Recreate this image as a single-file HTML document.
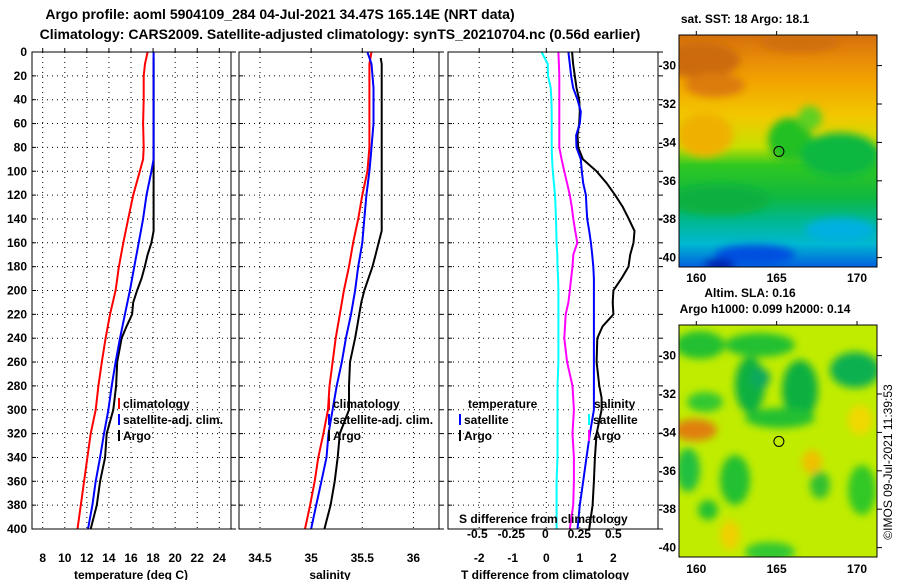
<!DOCTYPE html>
<html><head><meta charset="utf-8">
<style>
body{margin:0;background:#fff;}
svg{display:block;font-family:"Liberation Sans",sans-serif;font-weight:bold;}
</style></head>
<body>
<svg id="c" width="900" height="580" viewBox="0 0 900 580">
<defs>
<linearGradient id="sstg" x1="0" y1="0" x2="0" y2="1">
<stop offset="0" stop-color="#d4700c"/><stop offset="0.1" stop-color="#e88a08"/>
<stop offset="0.2" stop-color="#f2a400"/><stop offset="0.35" stop-color="#f2c800"/>
<stop offset="0.48" stop-color="#c8e000"/><stop offset="0.56" stop-color="#30c820"/>
<stop offset="0.7" stop-color="#10b840"/><stop offset="0.8" stop-color="#00b890"/>
<stop offset="0.9" stop-color="#00b8d0"/><stop offset="1" stop-color="#0060e0"/>
</linearGradient>
<filter id="bl"><feGaussianBlur stdDeviation="4"/></filter>
<clipPath id="m1"><rect x="679" y="35" width="198" height="232"/></clipPath>
<clipPath id="m2"><rect x="679" y="325" width="198" height="232"/></clipPath>
</defs>
<text x="280" y="19" font-size="14" text-anchor="middle">Argo profile: aoml 5904109_284 04-Jul-2021 34.47S 165.14E (NRT data)</text>
<text x="340" y="39" font-size="14" text-anchor="middle">Climatology: CARS2009. Satellite-adjusted climatology: synTS_20210704.nc (0.56d earlier)</text>

<g>
<g clip-path="url(#m1)">
<rect x="679" y="35" width="198" height="232" fill="url(#sstg)"/>
<g filter="url(#bl)">
<ellipse cx="700" cy="60" rx="40" ry="18" fill="#cc6a10"/>
<ellipse cx="800" cy="42" rx="40" ry="10" fill="#d07010"/>
<ellipse cx="715" cy="85" rx="30" ry="12" fill="#dc7c0c"/>
<ellipse cx="705" cy="135" rx="28" ry="22" fill="#f0b000"/>
<ellipse cx="790" cy="140" rx="22" ry="22" fill="#20c020"/>
<ellipse cx="840" cy="155" rx="40" ry="22" fill="#10b840"/>
<ellipse cx="810" cy="118" rx="12" ry="12" fill="#60d020"/>
<ellipse cx="720" cy="200" rx="50" ry="15" fill="#10b040"/>
<ellipse cx="840" cy="230" rx="35" ry="12" fill="#00b0e0"/>
<ellipse cx="755" cy="255" rx="40" ry="10" fill="#0050e0"/>
<ellipse cx="720" cy="265" rx="15" ry="6" fill="#0020b0"/>
</g>
</g>
<rect x="679" y="35" width="198" height="232" fill="none" stroke="#000"/>
</g>
<g>
<g clip-path="url(#m2)">
<rect x="679" y="325" width="198" height="232" fill="#c0ec00"/>
<g filter="url(#bl)">
<ellipse cx="700" cy="345" rx="25" ry="14" fill="#20c030"/>
<ellipse cx="760" cy="345" rx="35" ry="12" fill="#20c030"/>
<ellipse cx="750" cy="385" rx="15" ry="28" fill="#10b040"/>
<ellipse cx="760" cy="378" rx="10" ry="10" fill="#10a860"/>
<ellipse cx="800" cy="390" rx="18" ry="30" fill="#10b040"/>
<ellipse cx="780" cy="418" rx="35" ry="10" fill="#20c030"/>
<ellipse cx="855" cy="370" rx="25" ry="18" fill="#10b050"/>
<ellipse cx="705" cy="402" rx="18" ry="10" fill="#30c830"/>
<ellipse cx="695" cy="430" rx="22" ry="11" fill="#e08010"/>
<ellipse cx="688" cy="470" rx="12" ry="22" fill="#20c040"/>
<ellipse cx="735" cy="480" rx="15" ry="25" fill="#20c030"/>
<ellipse cx="812" cy="462" rx="10" ry="12" fill="#f0c000"/>
<ellipse cx="820" cy="485" rx="10" ry="14" fill="#30c030"/>
<ellipse cx="862" cy="490" rx="14" ry="25" fill="#30c828"/>
<ellipse cx="708" cy="510" rx="10" ry="10" fill="#20c030"/>
<ellipse cx="770" cy="552" rx="25" ry="10" fill="#30c830"/>
<ellipse cx="730" cy="535" rx="10" ry="15" fill="#f0d000"/>
<ellipse cx="860" cy="420" rx="12" ry="15" fill="#f0d800"/>
</g>
</g>
<rect x="679" y="325" width="198" height="232" fill="none" stroke="#000"/>
</g>
<text x="745" y="23" font-size="12" text-anchor="middle">sat. SST: 18 Argo: 18.1</text>
<text x="750" y="297" font-size="12" text-anchor="middle">Altim. SLA: 0.16</text>
<text x="765" y="313" font-size="12" text-anchor="middle">Argo h1000: 0.099 h2000: 0.14</text>
<text transform="translate(892,462) rotate(-90)" font-size="12" font-weight="normal" text-anchor="middle">©IMOS 09-Jul-2021 11:39:53</text>
</svg>
<script>
// ---- data ----
var depthTicks=[0,20,40,60,80,100,120,140,160,180,200,220,240,260,280,300,320,340,360,380,400];
var tTicks=[8,10,12,14,16,18,20,22,24];
var sTicks=[34.5,35,35.5,36];
var dtTicks=[-2,-1,0,1,2];
var dsTicks=[-0.5,-0.25,0,0.25,0.5];
var dsTickLabels=["-0.5","-0.25","0","0.25","0.5"];
var climDepth=[0,10,20,40,60,80,90,100,120,140,160,180,200,220,240,260,280,300,320,340,360,380,400];
var climT=[17.5,17.27,17.15,17.15,17.1,17.15,17.1,16.8,16.2,15.75,15.3,14.9,14.6,14.1,13.7,13.35,13.05,12.8,12.35,12.05,11.75,11.45,11.15];
var climS=[35.59,35.57,35.57,35.57,35.57,35.57,35.56,35.55,35.5,35.46,35.41,35.37,35.32,35.28,35.24,35.21,35.18,35.165,35.12,35.07,35.035,34.99,34.94];
var satDepth=[0,10,30,60,80,90,100,120,140,160,180,200,220,240,260,280,300,320,340,360,380,400];
var satT=[18.05,18.05,18.05,18.05,18.05,18.05,17.85,17.4,17.1,16.7,16.3,15.9,15.45,15.0,14.6,14.25,13.95,13.55,13.2,12.8,12.5,12.1];
var satS=[35.55,35.59,35.61,35.61,35.59,35.58,35.57,35.54,35.52,35.5,35.46,35.43,35.39,35.34,35.3,35.25,35.21,35.17,35.15,35.1,35.05,35.0];
var argoDepth=[5,10,90,100,140,150,160,170,180,190,200,210,220,230,240,260,280,300,320,340,360,380,400];
var argoT=[18.05,18.05,18.05,18.05,18.05,18.05,17.85,17.5,17.25,16.95,16.55,16.2,16.1,15.6,15.15,14.75,14.65,14.4,13.8,13.65,13.2,12.9,12.35];
var argoS=[35.68,35.69,35.69,35.69,35.69,35.69,35.66,35.63,35.6,35.56,35.52,35.49,35.47,35.45,35.43,35.38,35.37,35.37,35.28,35.26,35.23,35.19,35.13];
var dDepth=[0,10,20,30,40,50,60,70,80,90,100,110,120,130,140,150,160,170,180,190,200,210,220,230,240,260,280,290,300,320,340,360,380,400];
var satDT=[0.66,0.7,0.74,0.8,0.93,1.03,1.0,0.89,0.9,1.03,1.06,1.1,1.18,1.2,1.22,1.28,1.33,1.37,1.4,1.42,1.42,1.42,1.42,1.42,1.42,1.42,1.42,1.42,1.42,1.3,1.2,1.1,1.0,0.93];
var argoDT=[0.77,0.8,0.85,0.9,0.98,1.0,0.98,0.93,0.95,1.09,1.5,1.8,2.05,2.28,2.46,2.63,2.6,2.5,2.45,2.24,2.0,1.98,2.0,1.68,1.52,1.5,1.58,1.65,1.65,1.5,1.45,1.42,1.38,1.28];
var satDS=[-0.027,0.018,0.02,0.04,0.045,0.047,0.047,0.047,0.047,0.05,0.055,0.063,0.071,0.075,0.079,0.081,0.083,0.088,0.09,0.094,0.096,0.096,0.096,0.096,0.096,0.096,0.09,0.09,0.09,0.09,0.09,0.083,0.083,0.083];
var argoDS=[0.096,0.1,0.103,0.103,0.103,0.103,0.103,0.103,0.103,0.12,0.14,0.16,0.18,0.195,0.206,0.22,0.235,0.206,0.2,0.19,0.18,0.17,0.15,0.145,0.14,0.16,0.2,0.205,0.21,0.2,0.21,0.21,0.205,0.18];
var mapLonTicks=[160,165,170];
var mapLatTicks=[-30,-32,-34,-36,-38,-40];
var argoLon=165.14, argoLat=-34.47;

// ---- drawing ----
var svg=document.getElementById('c');
var NS='http://www.w3.org/2000/svg';
function mk(tag,at,parent){var e=document.createElementNS(NS,tag);for(var k in at)e.setAttribute(k,at[k]);(parent||svg).appendChild(e);return e;}
var Y0=52,Y1=529;
function yD(d){return Y0+(d/400)*(Y1-Y0);}
function lin(d0,d1,r0,r1){return function(v){return r0+(v-d0)/(d1-d0)*(r1-r0);};}
var panels=[
 {name:'temperature-panel',x0:32,x1:231,f:lin(7.03,25.06,32,231),ticks:tTicks,labs:tTicks.map(String),xl:'temperature (deg C)',xlx:131},
 {name:'salinity-panel',x0:239,x1:439,f:lin(34.295,36.25,239,439),ticks:sTicks,labs:['34.5','35','35.5','36'],xl:'salinity',xlx:330},
 {name:'difference-panel',x0:448,x1:658,f:lin(-2.93,3.33,448,658),ticks:dtTicks,labs:dtTicks.map(String),xl:'T difference from climatology',xlx:545}
];
var dsX=lin(-0.5,0.5,477.3,613.3);
panels.forEach(function(p,pi){
  var g=mk('g',{});
  
  
  depthTicks.forEach(function(d){
    var y=yD(d);
    if(d>0&&d<400){var l=mk('line',{x1:p.x0,x2:p.x1,y1:y,y2:y,stroke:'#000','stroke-dasharray':'1,4','stroke-width':1},g);
    
    }
    var t=mk('line',{x1:p.x0,x2:p.x0+4,y1:y,y2:y,stroke:'#000'},g);
    
    
    var t2=mk('line',{x1:p.x1,x2:p.x1+5,y1:y,y2:y,stroke:'#000'},g);
    
    
    if(pi==0){var tx=mk('text',{x:27,y:y+4,'font-size':12,'text-anchor':'end'},g);tx.textContent=d;
      
      }
  });
  p.ticks.forEach(function(v,i){
    var x=p.f(v);
    var l=mk('line',{x1:x,x2:x,y1:Y0,y2:Y1,stroke:'#000','stroke-dasharray':'1,4'},g);
    
    
    var tk=mk('line',{x1:x,x2:x,y1:Y0,y2:Y0-4,stroke:'#000'},g);
    
    
    var tx=mk('text',{x:x,y:562,'font-size':12,'text-anchor':'middle'},g);tx.textContent=p.labs[i];
    
    
  });
  var xl=mk('text',{x:p.xlx,y:579,'font-size':12,'text-anchor':'middle'},g);xl.textContent=p.xl;
  
  
  p.g=g;
});
function line(depths,vals,fx,color,name,g){
  var pts=depths.map(function(d,i){return fx(vals[i]).toFixed(1)+','+yD(d).toFixed(1);}).join(' ');
  var e=mk('polyline',{points:pts,fill:'none',stroke:color,'stroke-width':2},g);
  
  
}
var P=panels;
line(climDepth,climT,P[0].f,'#f00','climatology-temperature-line',P[0].g);
line(argoDepth,argoT,P[0].f,'#000','argo-temperature-line',P[0].g);
line(satDepth,satT,P[0].f,'#00f','satellite-temperature-line',P[0].g);
line(climDepth,climS,P[1].f,'#f00','climatology-salinity-line',P[1].g);
line(satDepth,satS,P[1].f,'#00f','satellite-salinity-line',P[1].g);
line(argoDepth,argoS,P[1].f,'#000','argo-salinity-line',P[1].g);
line(dDepth,satDS,dsX,'#0ff','satellite-s-diff-line',P[2].g);
line(dDepth,argoDS,dsX,'#f0f','argo-s-diff-line',P[2].g);
line(dDepth,argoDT,P[2].f,'#000','argo-t-diff-line',P[2].g);
line(dDepth,satDT,P[2].f,'#00f','satellite-t-diff-line',P[2].g);
dsTicks.forEach(function(v,i){
  var tx=mk('text',{x:dsX(v),y:538,'font-size':12,'text-anchor':'middle'},P[2].g);tx.textContent=dsTickLabels[i];
  
  
});
var st=mk('text',{x:459,y:523,'font-size':12},P[2].g);st.textContent='S difference from climatology';


panels.forEach(function(p){
  var r=mk('rect',{x:p.x0,y:Y0,width:p.x1-p.x0,height:Y1-Y0,fill:'none',stroke:'#000','stroke-width':1},p.g);
  
  
});
function legend(x,y,color,label,g){
  if(color){var b=mk('rect',{x:x,y:y-10,width:2,height:11,fill:color},g);
  
  }
  var t=mk('text',{x:x+5,y:y,'font-size':12},g);t.textContent=label;
  
  
}
legend(118,408,'#f00','climatology',P[0].g);
legend(118,424,'#00f','satellite-adj. clim.',P[0].g);
legend(118,440,'#000','Argo',P[0].g);
legend(328,408,'#f00','climatology',P[1].g);
legend(328,424,'#00f','satellite-adj. clim.',P[1].g);
legend(328,440,'#000','Argo',P[1].g);
legend(463,408,null,'temperature',P[2].g);
legend(459,424,'#00f','satellite',P[2].g);
legend(459,440,'#000','Argo',P[2].g);
legend(589,408,null,'salinity',P[2].g);
legend(588,424,'#0ff','satellite',P[2].g);
legend(588,440,'#f0f','Argo',P[2].g);
// map axes
var lonX=lin(160,170,696.3,857);
[[35,267,282,'sst'],[325,557,573,'sla']].forEach(function(m){
  var latY=lin(-30,-40,m[0]+30.6,m[0]+222.6);
  mapLonTicks.forEach(function(v){
    var x=lonX(v);
    var t=mk('line',{x1:x,x2:x,y1:m[0],y2:m[0]-4,stroke:'#000'});
    
    
    var tx=mk('text',{x:x,y:m[2],'font-size':12,'text-anchor':'middle'});tx.textContent=v;
    
    
  });
  mapLatTicks.forEach(function(v){
    var y=latY(v);
    var t=mk('line',{x1:877,x2:882,y1:y,y2:y,stroke:'#000'});
    
    
    var tx=mk('text',{x:676,y:y+4,'font-size':12,'text-anchor':'end'});tx.textContent=v;
    
    
  });
  var c=mk('circle',{cx:lonX(argoLon),cy:latY(argoLat),r:5,fill:'none',stroke:'#000','stroke-width':1});
  
  
});
</script>
</body></html>
